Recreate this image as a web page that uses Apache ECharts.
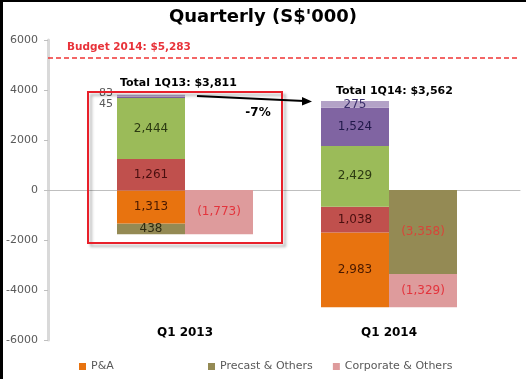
<!DOCTYPE html>
<html><head><meta charset="utf-8">
<script src="https://cdn.jsdelivr.net/npm/echarts@6/dist/echarts.min.js"></script>
<style>html,body{margin:0;padding:0;background:#fff}#c{width:526px;height:379px}</style>
</head><body><div id="c"></div>
<script>
const categories = ['Q1 2013', 'Q1 2014'];
const yTicks = [-6000, -4000, -2000, 0, 2000, 4000, 6000];
const pa = [1313, 2983];
const segRed = [1261, 1038];
const segGreen = [2444, 2429];
const segPurple = [45, 1524];
const segLavender = [83, 275];
const precastLeft = [438, 0];
const precastRight = [0, -3358];
const corporate = [-1773, -1329];
const totals = [3811, 3562];
const budget = 5283;
const change = '-7%';

const base = corporate.map((v, i) => v + precastRight[i]);
const F = 'DejaVu Sans';
function fmt(v) { if (!v) return ''; const s = Math.abs(v).toLocaleString('en-US'); return v < 0 ? '(' + s + ')' : s; }
function bar(name, data, stack, color, labelColor, extra) {
  return Object.assign({
    type: 'bar', name: name, stack: stack, stackStrategy: 'all', data: data,
    barWidth: 68, barGap: '0%', xAxisIndex: 0, yAxisIndex: 0,
    itemStyle: { color: color },
    label: { show: true, position: 'inside', color: labelColor, fontFamily: F, fontSize: 12,
      formatter: p => fmt(typeof p.value === 'object' ? p.value.value : p.value) },
    emphasis: { disabled: true }, silent: true
  }, extra || {});
}
function sideLabel(arr, dy) {
  return arr.map((v, i) => i === 0 ? { value: v, label: { position: 'left', distance: 4, offset: [0, dy], color: '#595959', fontSize: 11 } } : v);
}
const chart = echarts.init(document.getElementById('c'));
const txt = (t, x, y, size, color, align) => ({ type: 'text', z: 100, style: { text: t, x: x, y: y, fontFamily: F, fontWeight: 'bold', fontSize: size, fill: color, textAlign: align || 'left', textVerticalAlign: 'middle' } });
chart.setOption({
  animation: false,
  backgroundColor: '#fff',
  title: { text: "Quarterly (S$'000)", left: 'center', top: 3, textStyle: { fontFamily: F, fontWeight: 'bold', fontSize: 18, color: '#000' } },
  grid: [
    { left: 83, right: 35, top: 40, bottom: 39 },
    { left: 48, right: 6, top: 40, bottom: 39 }
  ],
  xAxis: [
    { type: 'category', gridIndex: 0, data: categories, axisLine: { show: false, onZero: false }, axisTick: { show: false },
      axisLabel: { margin: -13, fontFamily: F, fontWeight: 'bold', fontSize: 12, color: '#000' } },
    { type: 'value', gridIndex: 1, min: 0, max: 1, axisLine: { show: true, onZero: true, lineStyle: { color: '#BFBFBF', width: 1 } },
      axisTick: { show: false }, axisLabel: { show: false }, splitLine: { show: false } }
  ],
  yAxis: [
    { type: 'value', gridIndex: 0, min: yTicks[0], max: yTicks[yTicks.length - 1], interval: yTicks[1] - yTicks[0], show: false },
    { type: 'value', gridIndex: 1, min: yTicks[0], max: yTicks[yTicks.length - 1], interval: yTicks[1] - yTicks[0],
      axisLine: { show: true, onZero: false, lineStyle: { color: '#D9D9D9', width: 3 } },
      axisTick: { show: true, length: 4, lineStyle: { color: '#BFBFBF' } },
      axisLabel: { fontFamily: F, fontSize: 11, color: '#595959', margin: 10, formatter: v => String(v) },
      splitLine: { show: false } }
  ],
  legend: [
    { data: ['P&A'], left: 74, top: 356, icon: 'rect', itemWidth: 7, itemHeight: 7, selectedMode: false,
      textStyle: { fontFamily: F, fontSize: 11, color: '#595959' } },
    { data: ['Precast & Others', 'Corporate & Others'], left: 203, top: 356, itemGap: 20, icon: 'rect', itemWidth: 7, itemHeight: 7, selectedMode: false,
      textStyle: { fontFamily: F, fontSize: 11, color: '#595959' } }
  ],
  series: [
    bar('base', base, 'L', 'rgba(0,0,0,0)', 'transparent', { label: { show: false } }),
    bar('Precast & Others', precastLeft, 'L', '#948A54', '#2E2A10'),
    bar('P&A', pa, 'L', '#E8730F', '#4A1A00'),
    bar('Segment B', segRed, 'L', '#C0504D', '#4A0F0F'),
    bar('Segment C', segGreen, 'L', '#9BBB59', '#2C3A12'),
    bar('Segment D', sideLabel(segPurple, 7), 'L', '#8064A2', '#20184A'),
    bar('Segment E', sideLabel(segLavender, -3), 'L', '#B3A2C7', '#3A2F6A', {}),
    bar('Precast & Others', precastRight, 'R', '#948A54', '#D8453A'),
    bar('Corporate & Others', corporate, 'R', '#DE9B9C', '#E3343C'),
    { type: 'line', xAxisIndex: 1, yAxisIndex: 1, data: [], silent: true,
      markLine: { silent: true, symbol: 'none', label: { show: false },
        lineStyle: { color: '#F03535', type: [5, 3], width: 1.5 }, data: [{ yAxis: budget }] } }
  ],
  graphic: [
    { type: 'rect', z: 200, shape: { x: 0, y: 0, width: 3, height: 379 }, style: { fill: '#000' } },
    { type: 'rect', z: 200, shape: { x: 0, y: 0, width: 526, height: 2 }, style: { fill: '#000' } },
    txt('Budget 2014: $' + budget.toLocaleString('en-US'), 67, 47, 10.5, '#E8333A'),
    txt('Total 1Q13: $' + totals[0].toLocaleString('en-US'), 120, 83, 11, '#000'),
    txt('Total 1Q14: $' + totals[1].toLocaleString('en-US'), 336, 91, 11, '#000'),
    txt(change, 258, 113, 12, '#000', 'center'),
    { type: 'rect', z: 90, shape: { x: 88, y: 92, width: 194, height: 151 },
      style: { fill: 'none', stroke: '#E8202A', lineWidth: 2, shadowBlur: 3, shadowOffsetX: 3, shadowOffsetY: 3, shadowColor: 'rgba(0,0,0,0.3)' } },
    { type: 'line', z: 100, shape: { x1: 197, y1: 96, x2: 304, y2: 101 }, style: { stroke: '#000', lineWidth: 2 } },
    { type: 'polygon', z: 100, shape: { points: [[312, 101.5], [302, 97], [302, 105.5]] }, style: { fill: '#000' } }
  ]
});
</script></body></html>
